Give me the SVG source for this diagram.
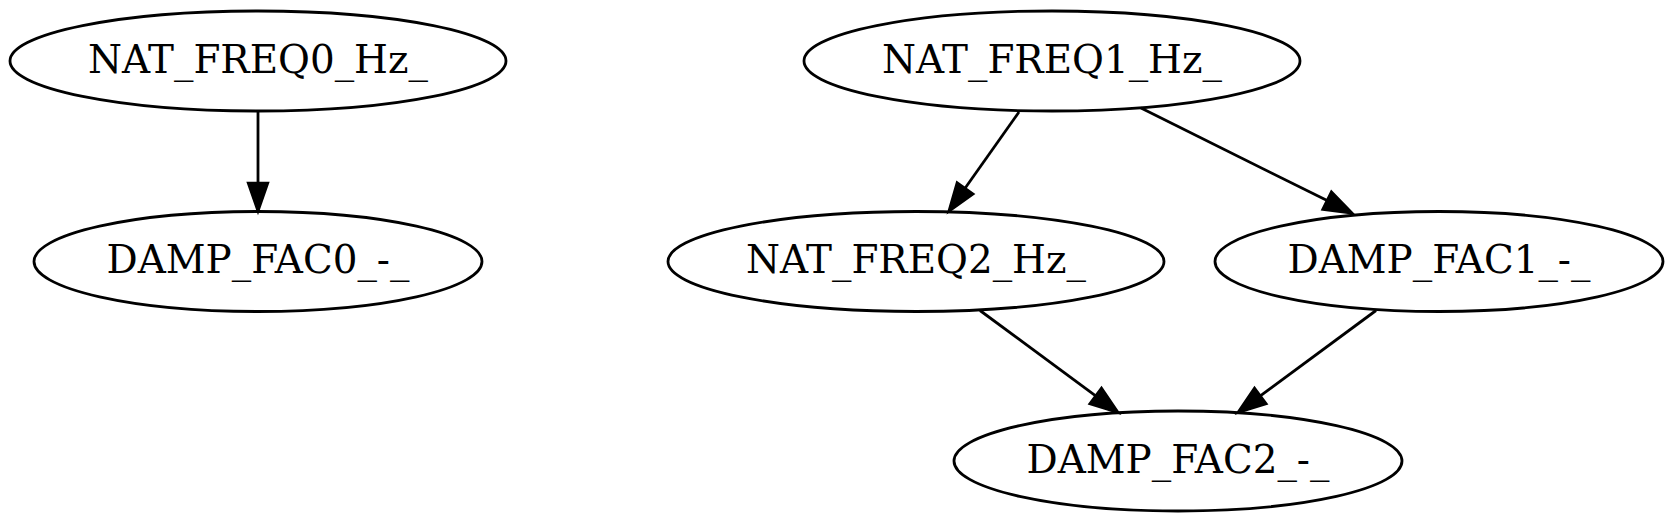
<svg xmlns="http://www.w3.org/2000/svg" width="1674" height="522" viewBox="0 0 1674 522">
<style>
.node ellipse{fill:none;stroke:#000;stroke-width:2.8}
.node text{font-family:"DejaVu Serif","Liberation Serif",serif;font-size:38.9px;text-anchor:middle;fill:#000}
.edge path{fill:none;stroke:#000;stroke-width:2.8}
.edge polygon{fill:#000;stroke:#000;stroke-width:2.8}
</style>
<rect width="1674" height="522" fill="#fff"/>
<g id="connectors">
<g class="edge" id="e_f0_d0"><path d="M258,111 L258,183.2"/><polygon points="258,211 248.3,183.2 267.7,183.2"/></g>
<g class="edge" id="e_f1_f2"><path d="M1019,112 L965.05,188.29"/><polygon points="949,211 972.97,193.89 957.13,182.69"/></g>
<g class="edge" id="e_f1_d1"><path d="M1141,108 L1327.11,200.62"/><polygon points="1352,213 1322.79,209.30 1331.43,191.94"/></g>
<g class="edge" id="e_f2_d2"><path d="M980,310.5 L1095.68,395.93"/><polygon points="1118,412.5 1089.9,403.7 1101.5,388.1"/></g>
<g class="edge" id="e_d1_d2"><path d="M1376,310.5 L1260.32,395.93"/><polygon points="1238,412.5 1266.1,403.7 1254.5,388.1"/></g>
</g>
<g class="node" id="NAT_FREQ0_Hz_"><ellipse cx="258" cy="61" rx="248" ry="50"/><text x="258" y="72.5">NAT_FREQ0_Hz_</text></g>
<g class="node" id="DAMP_FAC0_-_"><ellipse cx="258" cy="261.5" rx="224" ry="50"/><text x="258" y="273">DAMP_FAC0_-_</text></g>
<g class="node" id="NAT_FREQ1_Hz_"><ellipse cx="1052" cy="61" rx="248" ry="50"/><text x="1052" y="72.5">NAT_FREQ1_Hz_</text></g>
<g class="node" id="NAT_FREQ2_Hz_"><ellipse cx="916" cy="261.5" rx="248" ry="50"/><text x="916" y="273">NAT_FREQ2_Hz_</text></g>
<g class="node" id="DAMP_FAC1_-_"><ellipse cx="1439" cy="261.5" rx="224" ry="50"/><text x="1439" y="273">DAMP_FAC1_-_</text></g>
<g class="node" id="DAMP_FAC2_-_"><ellipse cx="1178" cy="461" rx="224" ry="50"/><text x="1178" y="472.5">DAMP_FAC2_-_</text></g>
</svg>
